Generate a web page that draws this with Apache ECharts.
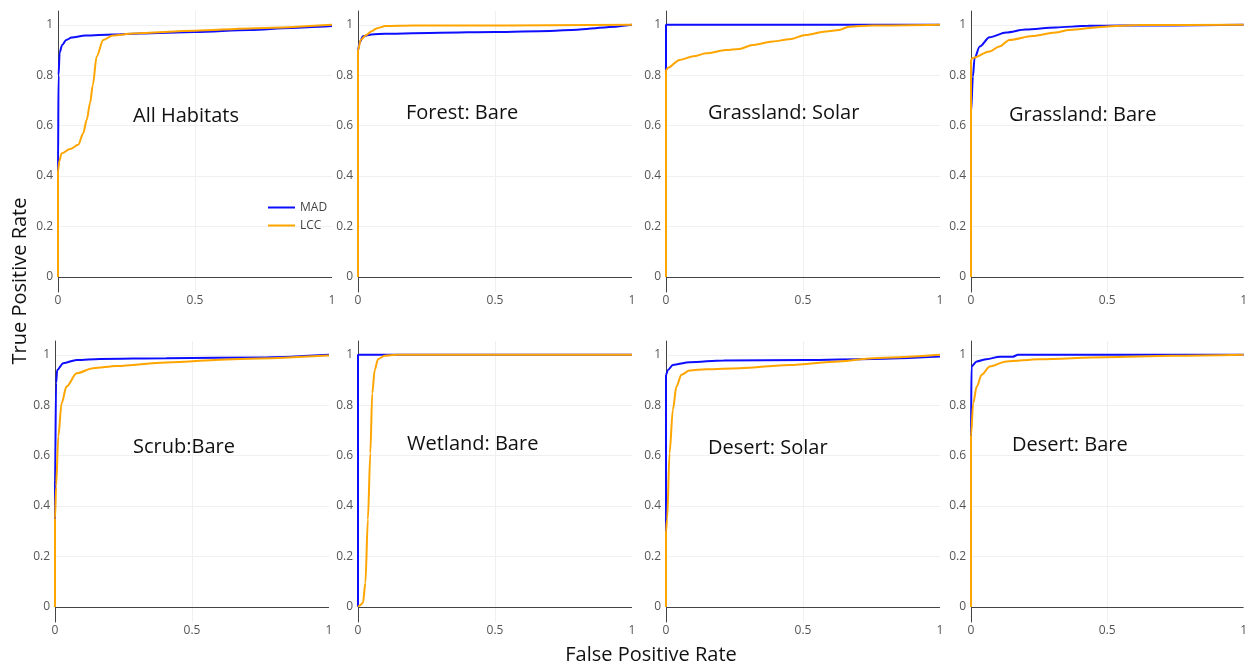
<!DOCTYPE html>
<html>
<head>
<meta charset="UTF-8">
<title>ROC curves</title>
<script src="https://cdn.jsdelivr.net/npm/echarts@6/dist/echarts.min.js"></script>
<style>
  html, body { margin: 0; padding: 0; background: #fff; }
  #main { width: 1250px; height: 666px; }
</style>
</head>
<body>
<div id="main"></div>
<script>
// panel names, in reading order
var panelNames = ['All Habitats', 'Forest: Bare', 'Grassland: Solar', 'Grassland: Bare',
                  'Scrub:Bare', 'Wetland: Bare', 'Desert: Solar', 'Desert: Bare'];
var seriesNames = ['MAD', 'LCC'];
var xTicks = [0, 0.5, 1];
var yTicks = [0, 0.2, 0.4, 0.6, 0.8, 1];

// [false positive rate, true positive rate]
var allHabitatsMAD = [[0,0],[0,0.42],[0.002,0.8],[0.006,0.89],[0.015,0.92],[0.03,0.94],[0.05,0.95],[0.1,0.958],[0.2,0.962],[0.3,0.966],[0.5,0.972],[0.7,0.98],[0.85,0.988],[1,0.995]];
var allHabitatsLCC = [[0,0],[0,0.42],[0.005,0.46],[0.013,0.49],[0.044,0.507],[0.074,0.524],[0.092,0.57],[0.105,0.623],[0.117,0.69],[0.127,0.76],[0.141,0.874],[0.165,0.94],[0.2,0.958],[0.275,0.966],[0.5,0.977],[0.7,0.986],[1,1]];
var forestMAD = [[0,0],[0,0.9],[0.006,0.93],[0.018,0.955],[0.05,0.962],[0.1,0.965],[0.3,0.969],[0.5,0.972],[0.7,0.976],[0.8,0.981],[0.9,0.99],[1,1]];
var forestLCC = [[0,0],[0,0.9],[0.01,0.94],[0.03,0.96],[0.05,0.975],[0.07,0.987],[0.1,0.995],[0.2,0.997],[1,1]];
var grassSolarMAD = [[0,0],[0,1],[1,1]];
var grassSolarLCC = [[0,0],[0,0.82],[0.007,0.83],[0.05,0.861],[0.1,0.875],[0.146,0.887],[0.219,0.9],[0.267,0.904],[0.316,0.92],[0.39,0.934],[0.45,0.943],[0.51,0.96],[0.583,0.974],[0.632,0.98],[0.668,0.993],[0.753,0.997],[1,1]];
var grassBareMAD = [[0,0],[0,0.65],[0.007,0.795],[0.013,0.868],[0.032,0.914],[0.068,0.951],[0.129,0.97],[0.2,0.982],[0.31,0.99],[0.43,0.996],[0.55,0.997],[1,1]];
var grassBareLCC = [[0,0],[0,0.86],[0.004,0.868],[0.068,0.894],[0.104,0.914],[0.141,0.94],[0.226,0.956],[0.31,0.97],[0.36,0.98],[0.49,0.993],[0.615,0.999],[1,1]];
var scrubMAD = [[0,0],[0,0.5],[0.004,0.888],[0.008,0.94],[0.03,0.967],[0.079,0.98],[0.164,0.984],[0.406,0.987],[0.77,0.99],[1,1]];
var scrubLCC = [[0,0],[0,0.35],[0.004,0.478],[0.012,0.676],[0.024,0.808],[0.042,0.874],[0.079,0.927],[0.139,0.947],[0.224,0.956],[0.406,0.97],[0.65,0.983],[1,0.997]];
var wetlandMAD = [[0,0],[0,1],[1,1]];
var wetlandLCC = [[0,0],[0.006,0.005],[0.018,0.016],[0.027,0.095],[0.036,0.346],[0.045,0.61],[0.052,0.848],[0.061,0.94],[0.073,0.983],[0.097,0.996],[0.14,1],[1,1]];
var desertSolarMAD = [[0,0],[0,0.92],[0.007,0.94],[0.025,0.96],[0.086,0.971],[0.21,0.978],[0.51,0.98],[0.754,0.984],[1,0.993]];
var desertSolarLCC = [[0,0],[0,0.3],[0.004,0.346],[0.013,0.61],[0.025,0.782],[0.038,0.874],[0.056,0.921],[0.086,0.938],[0.147,0.943],[0.268,0.947],[0.45,0.96],[0.632,0.974],[0.754,0.987],[1,1]];
var desertBareMAD = [[0,0],[0,0.7],[0.002,0.954],[0.021,0.974],[0.057,0.983],[0.106,0.993],[0.154,0.993],[0.172,1],[1,1]];
var desertBareLCC = [[0,0],[0,0.68],[0.008,0.808],[0.021,0.874],[0.039,0.921],[0.069,0.954],[0.13,0.974],[0.25,0.983],[0.49,0.991],[0.74,0.996],[1,1]];

var madData = [allHabitatsMAD, forestMAD, grassSolarMAD, grassBareMAD, scrubMAD, wetlandMAD, desertSolarMAD, desertBareMAD];
var lccData = [allHabitatsLCC, forestLCC, grassSolarLCC, grassBareLCC, scrubLCC, wetlandLCC, desertSolarLCC, desertBareLCC];

// layout in pixels
var lefts = [58, 358, 666, 971, 55, 358, 666, 971];
var tops = [11, 11, 11, 11, 341, 341, 341, 341];
var labelPos = [[133, 116], [406, 113], [708, 113], [1009, 115], [133, 447], [407, 444], [708, 448], [1012, 445]];

var chart = echarts.init(document.getElementById('main'));
var grids = [], xAxes = [], yAxes = [], series = [], titles = [];
var labelFont = 'Open Sans';
var blue = '#0d0dff', orange = '#ffa500';

for (var i = 0; i < 8; i++) {
	grids.push({ left: lefts[i], top: tops[i], width: 274, height: 281 });
	xAxes.push({
		type: 'value', gridIndex: i, min: 0, max: 1, interval: 0.5,
		axisLine: { show: false, onZero: false },
		axisTick: { show: false },
		axisLabel: { color: '#555', fontSize: 12, fontFamily: labelFont, margin: 3,
			formatter: function (v) { return String(v); } },
		// no grid line on the right edge
		splitLine: { show: true, lineStyle: { color: ['transparent', '#f0f0f0', 'transparent'], width: 1 } }
	});
	yAxes.push({
		type: 'value', gridIndex: i, min: -0.06, max: 1.055,
		axisLine: { show: true, onZero: false, lineStyle: { color: '#444', width: 1 } },
		axisTick: { show: false, customValues: yTicks },
		axisLabel: { color: '#555', fontSize: 12, fontFamily: labelFont, margin: 5,
			customValues: yTicks, formatter: function (v) { return String(Math.round(v * 10) / 10); } },
		splitLine: { show: true, lineStyle: { color: '#f0f0f0', width: 1 } }
	});
	series.push({
		name: seriesNames[0], type: 'line', xAxisIndex: i, yAxisIndex: i,
		data: madData[i], showSymbol: false, clip: false, z: 3,
		smooth: 0.3, smoothMonotone: 'x',
		lineStyle: { color: blue, width: 2 }, itemStyle: { color: blue },
		markLine: { silent: true, symbol: 'none', label: { show: false },
			lineStyle: { color: '#444', width: 1, type: 'solid' },
			data: [{ yAxis: 0 }] }
	});
	series.push({
		name: seriesNames[1], type: 'line', xAxisIndex: i, yAxisIndex: i,
		data: lccData[i], showSymbol: false, clip: false, z: 4,
		smooth: 0.3, smoothMonotone: 'x',
		lineStyle: { color: orange, width: 2 }, itemStyle: { color: orange }
	});
	titles.push({
		text: panelNames[i], left: labelPos[i][0], top: labelPos[i][1] - 10, padding: 0,
		textStyle: { fontFamily: labelFont, fontWeight: 'normal', fontSize: 20, color: '#111' }
	});
}

var option = {
	backgroundColor: '#fff',
	animation: false,
	title: titles,
	grid: grids,
	xAxis: xAxes,
	yAxis: yAxes,
	legend: {
		data: seriesNames, orient: 'vertical', left: 263, top: 196,
		icon: 'rect', itemWidth: 27, itemHeight: 2, itemGap: 5,
		textStyle: { color: '#444', fontSize: 12, fontFamily: labelFont, lineHeight: 13 }
	},
	graphic: [
		{ type: 'text', x: 20, y: 281, rotation: Math.PI / 2,
		  style: { text: 'True Positive Rate', font: '20px "Open Sans"', fill: '#111', align: 'center', verticalAlign: 'middle' } },
		{ type: 'text', x: 651, y: 655,
		  style: { text: 'False Positive Rate', font: '20px "Open Sans"', fill: '#111', align: 'center', verticalAlign: 'middle' } }
	],
	series: series
};
chart.setOption(option);
</script>
</body>
</html>
